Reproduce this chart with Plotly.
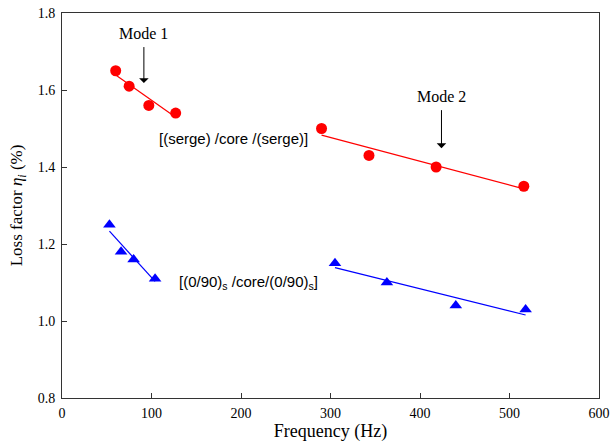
import numpy as np
import plotly.graph_objects as go

# Data
serge_m1_x = [60, 75, 97, 127]
serge_m1_y = [1.65, 1.61, 1.56, 1.54]
serge_m2_x = [290, 343, 418, 516]
serge_m2_y = [1.50, 1.43, 1.40, 1.35]

cross_m1_x = [53, 66, 80, 104]
cross_m1_y = [1.25, 1.18, 1.16, 1.11]
cross_m2_x = [305, 363, 440, 518]
cross_m2_y = [1.15, 1.10, 1.04, 1.03]

x_ticks = [0, 100, 200, 300, 400, 500, 600]
y_ticks = [0.8, 1.0, 1.2, 1.4, 1.6, 1.8]

RED = "#ff0000"
BLUE = "#0000ff"

fig = go.Figure()


def fit_line(xs, ys):
    k, b = np.polyfit(xs, ys, 1)
    xx = np.array([min(xs), max(xs)], dtype=float)
    return xx, k * xx + b


for xs, ys, color, symbol in [
    (serge_m1_x, serge_m1_y, RED, "circle"),
    (serge_m2_x, serge_m2_y, RED, "circle"),
    (cross_m1_x, cross_m1_y, BLUE, "triangle-up"),
    (cross_m2_x, cross_m2_y, BLUE, "triangle-up"),
]:
    lx, ly = fit_line(xs, ys)
    fig.add_trace(go.Scatter(x=lx, y=ly, mode="lines",
                             line=dict(color=color, width=1.2),
                             showlegend=False, hoverinfo="skip"))
    fig.add_trace(go.Scatter(x=xs, y=ys, mode="markers",
                             marker=dict(color=color, symbol=symbol, size=11,
                                         line=dict(width=0)),
                             showlegend=False))

serif = "Liberation Serif"
sans = "Liberation Sans"

annotations = [
    dict(x=91.5, y=1.618, ax=0, ay=-39, showarrow=True, arrowhead=1, arrowsize=1.6,
         arrowwidth=1, arrowcolor="black", startstandoff=3, yanchor="bottom",
         text="Mode 1", font=dict(family=serif, size=16, color="black")),
    dict(x=424, y=1.449, ax=0, ay=-41, showarrow=True, arrowhead=1, arrowsize=1.6,
         arrowwidth=1, arrowcolor="black", startstandoff=3, yanchor="bottom",
         text="Mode 2", font=dict(family=serif, size=16, color="black")),
    dict(x=106, y=1.475, xanchor="left", text="[(serge) /core /(serge)]", showarrow=False,
         font=dict(family=sans, size=15, color="black")),
    dict(x=129, y=1.101, xanchor="left", text="[(0/90)<sub>s</sub> /core/(0/90)<sub>s</sub>]", showarrow=False,
         font=dict(family=sans, size=15, color="black")),
]

fig.update_layout(
    width=611, height=445,
    margin=dict(l=62, r=12, t=13, b=47),
    paper_bgcolor="white", plot_bgcolor="white",
    font=dict(family=serif, size=14, color="black"),
    annotations=annotations,
    showlegend=False,
)
fig.update_xaxes(range=[0, 600], tickvals=x_ticks, ticktext=[str(v) for v in x_ticks],
                 ticks="inside", ticklen=5, tickcolor="#333", showgrid=False, zeroline=False,
                 showline=True, linecolor="#333", linewidth=1, mirror=True, automargin=False,
                 ticklabelstandoff=2,
                 title=dict(text="Frequency (Hz)", font=dict(family=serif, size=18), standoff=2),
                 tickfont=dict(family=serif, size=14))
fig.update_yaxes(range=[0.8, 1.8], tickvals=y_ticks, ticktext=[f"{v:.1f}" for v in y_ticks],
                 ticks="inside", ticklen=5, tickcolor="#333", showgrid=False, zeroline=False,
                 showline=True, linecolor="#333", linewidth=1, mirror=True, automargin=False,
                 ticklabelstandoff=3,
                 title=dict(text="Loss factor <i>η<sub>i</sub></i> (%)", font=dict(family=serif, size=17), standoff=10),
                 tickfont=dict(family=serif, size=14))

fig.write_html("out.html", config={"displayModeBar": False},
               post_script="document.body.style.margin='0px';")
